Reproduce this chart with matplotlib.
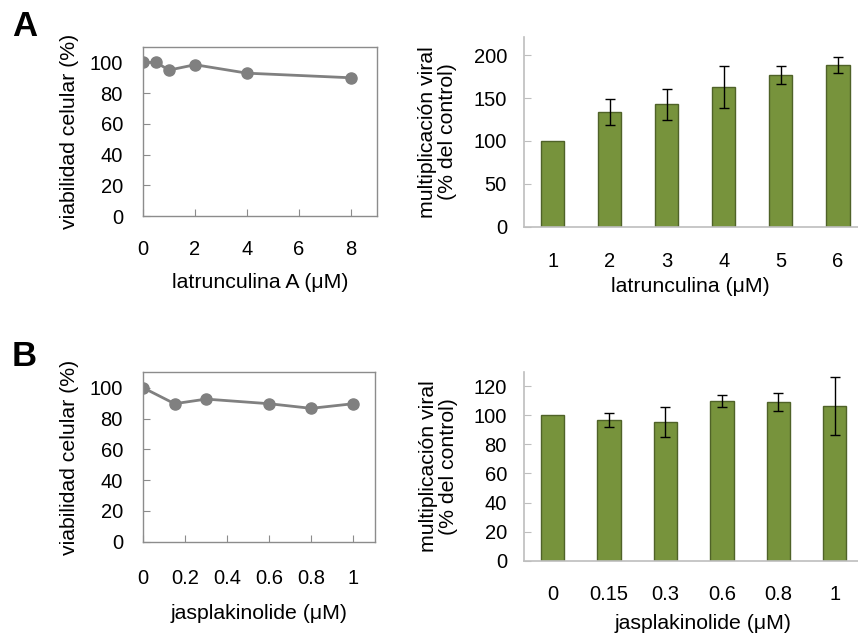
import numpy as np
import matplotlib.pyplot as plt

plt.rcParams['font.family'] = ['Liberation Sans', 'DejaVu Sans']
plt.rcParams['font.size'] = 14

# Panel A - latrunculina A
lat_conc = [0, 0.5, 1, 2, 4, 8]
lat_viab = [100, 100, 95, 98.5, 93, 90]
lat_cats = ['1', '2', '3', '4', '5', '6']
lat_mult = [100, 134, 143, 163, 177, 189]
lat_err = [0, 15, 18, 25, 10.5, 9.5]

# Panel B - jasplakinolide
jas_conc = [0, 0.15, 0.3, 0.6, 0.8, 1]
jas_viab = [100, 89.6, 92.6, 89.6, 86.6, 89.6]
jas_cats = ['0', '0.15', '0.3', '0.6', '0.8', '1']
jas_mult = [100, 96.8, 95.4, 110, 109.2, 106.5]
jas_err = [0, 5, 10, 4, 6, 20]

fig = plt.figure(figsize=(8.58, 6.35), dpi=100)

line_col = '#808080'
bar_col = '#77933C'
bar_edge = '#4F6228'
TICK_FS = 14.5
LAB_FS = 15.3


def viab_panel(rect, x, y, xlim, xticks, xticklabels, xlabel, lab_y, xpad):
    ax = fig.add_axes(rect)
    ax.plot(x, y, color=line_col, lw=2, marker='o', ms=8, mec=line_col, mfc=line_col)
    ax.set_xlim(*xlim)
    ax.set_ylim(0, 110)
    ax.set_yticks(np.arange(0, 101, 20))
    ax.set_xticks(xticks)
    ax.set_xticklabels(xticklabels)
    for s in ax.spines.values():
        s.set_color('#8C8C8C')
        s.set_linewidth(1)
    ax.tick_params(axis='both', direction='in', length=5, color='#8C8C8C', labelsize=TICK_FS)
    ax.tick_params(axis='x', pad=xpad)
    ax.tick_params(axis='y', pad=14.5)
    ax.set_xlabel(xlabel, fontsize=LAB_FS, va='center')
    ax.xaxis.set_label_coords(0.5, lab_y)
    ax.set_ylabel('viabilidad celular (%)', fontsize=LAB_FS, va='center')
    ax.yaxis.set_label_coords(-0.316, 0.5)
    return ax


def bar_panel(rect, cats, vals, err, ylim, yticks, xlabel, lab_x, lab_y, xpad):
    ax = fig.add_axes(rect)
    pos = np.arange(1, len(cats) + 1)
    ax.bar(pos, vals, width=0.41, color=bar_col, edgecolor=bar_edge, lw=1)
    e = np.array(err, dtype=float)
    m = e > 0
    ax.errorbar(pos[m], np.array(vals)[m], yerr=e[m], fmt='none', ecolor='black',
                elinewidth=1, capsize=3.5, capthick=1)
    ax.set_xlim(0.5, len(cats) + 0.5)
    ax.set_ylim(*ylim)
    ax.set_yticks(yticks)
    ax.set_xticks(pos)
    ax.set_xticklabels(cats)
    ax.spines['top'].set_visible(False)
    ax.spines['right'].set_visible(False)
    for s in ['left', 'bottom']:
        ax.spines[s].set_color('#BEBEBE')
        ax.spines[s].set_linewidth(1.2)
    ax.tick_params(axis='y', direction='in', length=5, color='#BEBEBE', labelsize=TICK_FS, pad=12.5)
    ax.tick_params(axis='x', length=0, labelsize=TICK_FS, pad=xpad)
    ax.set_xlabel(xlabel, fontsize=LAB_FS, va='center')
    ax.xaxis.set_label_coords(lab_x, lab_y)
    ax.set_ylabel('multiplicación viral\n(% del control)', fontsize=LAB_FS, linespacing=1.05, va='center')
    ax.yaxis.set_label_coords(-0.254, 0.5)
    return ax


viab_panel([0.1667, 0.6598, 0.2727, 0.2661], lat_conc, lat_viab, (0, 9),
           [0, 2, 4, 6, 8], ['0', '2', '4', '6', '8'],
           'latrunculina A (\u03bcM)', -0.396, 17)
bar_panel([0.611, 0.643, 0.3987, 0.2983], lat_cats, lat_mult, lat_err,
          (0, 221), [0, 50, 100, 150, 200], 'latrunculina (\u03bcM)', 0.486, -0.317, 18)

viab_panel([0.1667, 0.1469, 0.2707, 0.2668], jas_conc, jas_viab, (0, 1.105),
           [0, 0.2, 0.4, 0.6, 0.8, 1], ['0', '0.2', '0.4', '0.6', '0.8', '1'],
           'jasplakinolide (\u03bcM)', -0.423, 19.5)
bar_panel([0.611, 0.1170, 0.395, 0.2977], jas_cats, jas_mult, jas_err,
          (0, 130), [0, 20, 40, 60, 80, 100, 120], 'jasplakinolide (\u03bcM)', 0.527, -0.331, 17.5)

fig.text(12 / 858, 1 - 10 / 635, 'A', fontsize=25, fontweight='bold', va='top', ha='left')
fig.text(12 / 858, 1 - 340 / 635, 'B', fontsize=25, fontweight='bold', va='top', ha='left')

fig.savefig('out.png', dpi=100)
